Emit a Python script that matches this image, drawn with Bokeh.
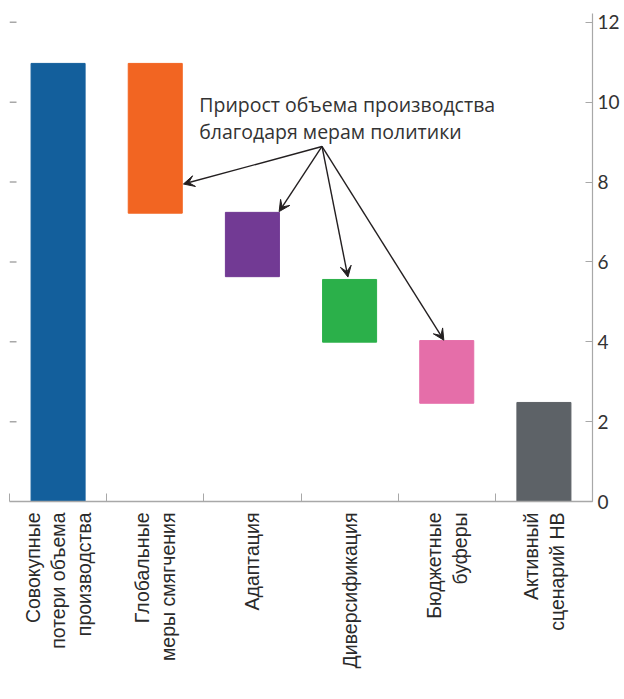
import math
from bokeh.plotting import figure
from bokeh.models import (Range1d, LinearAxis, FixedTicker, Arrow, VeeHead,
                          ColumnDataSource)
from bokeh.core.properties import value
from bokeh.embed import file_html
from bokeh.resources import INLINE

# ---- data ----
categories = [
    "Совокупные\nпотери объема\nпроизводства",
    "Глобальные\nмеры смягчения",
    "Адаптация",
    "Диверсификация",
    "Бюджетные\nбуферы",
    "Активный\nсценарий НВ",
]
bar_bottom = [0.0, 7.22, 5.63, 3.99, 2.46, 0.0]
bar_top = [10.97, 10.97, 7.24, 5.56, 4.03, 2.48]
bar_colors = ["#135f9c", "#f26522", "#723a94", "#2bb04a", "#e56ea9", "#5d6267"]
y_ticks = [0, 2, 4, 6, 8, 10, 12]

annotation_text = "Прирост объема производства\nблагодаря мерам политики"
annotation_pos = (1.953, 10.27)
arrow_start = (3.216, 8.89)
arrow_x_end = [1.79, 2.775, 3.483, 4.47]
arrow_y_end = [7.95, 7.26, 5.62, 4.04]

# ---- figure ----
n = len(categories)
p = figure(width=624, height=699, x_range=Range1d(0, n), y_range=Range1d(0, 12.22),
           output_backend="svg", toolbar_location=None,
           x_axis_location=None, y_axis_location=None,
           min_border_left=9, min_border_top=13, min_border_bottom=198,
           min_border_right=32)
p.outline_line_color = None
p.xgrid.visible = False
p.ygrid.visible = False
p.background_fill_color = "white"

centers = [i + 0.5 for i in range(n)]
src = ColumnDataSource(dict(x=centers, bottom=bar_bottom, top=bar_top, color=bar_colors))
p.vbar(x="x", bottom="bottom", top="top", width=0.556, color="color", source=src)

axis_gray = "#a8a8a8"

# bottom axis with category separators
xaxis = LinearAxis(ticker=FixedTicker(ticks=centers, minor_ticks=list(range(n + 1))))
xaxis.major_label_overrides = {c: lab for c, lab in zip(centers, categories)}
xaxis.major_label_orientation = math.pi / 2
xaxis.major_tick_in = 0
xaxis.major_tick_out = 0
xaxis.minor_tick_in = 8
xaxis.minor_tick_out = 0
xaxis.minor_tick_line_color = axis_gray
xaxis.axis_line_color = axis_gray
xaxis.axis_line_width = 1.5
xaxis.major_label_standoff = 11
xaxis.major_label_text_font = "Liberation Sans"
xaxis.major_label_text_font_size = "19.5px"
xaxis.major_label_text_color = "#2a2a2a"
xaxis.major_label_text_line_height = 1.16
p.add_layout(xaxis, "below")

# left-side tick marks (no labels, no axis line)
left_ticks = y_ticks[1:]
p.ray(x=[0] * len(left_ticks), y=left_ticks, length=7, length_units="screen",
      angle=0, line_color=axis_gray, line_width=1.5)

# right axis with labels
raxis = LinearAxis(ticker=FixedTicker(ticks=y_ticks))
raxis.axis_line_color = axis_gray
raxis.axis_line_width = 1.2
raxis.major_tick_in = 7
raxis.major_tick_out = 0
raxis.major_tick_line_color = axis_gray
raxis.minor_tick_line_alpha = 0
raxis.major_label_standoff = 5
raxis.major_label_text_font = "Lato"
raxis.major_label_text_font_size = "19px"
raxis.major_label_text_color = "#333333"
p.add_layout(raxis, "right")

# annotation text
p.text(x=[annotation_pos[0]], y=[annotation_pos[1]], text=[annotation_text],
       text_font=value("Open Sans"), text_font_size="19.5px", text_color="#333333",
       text_baseline="top", text_align="left", text_line_height=0.98)

# arrows
asrc = ColumnDataSource(dict(x0=[arrow_start[0]] * len(arrow_x_end),
                             y0=[arrow_start[1]] * len(arrow_x_end),
                             x1=arrow_x_end, y1=arrow_y_end))
p.add_layout(Arrow(x_start="x0", y_start="y0", x_end="x1", y_end="y1", source=asrc,
                   line_color="#231f20", line_width=1.4,
                   end=VeeHead(size=11, fill_color="#231f20", line_color="#231f20")))

open("out.html", "w").write(file_html(p, INLINE))
